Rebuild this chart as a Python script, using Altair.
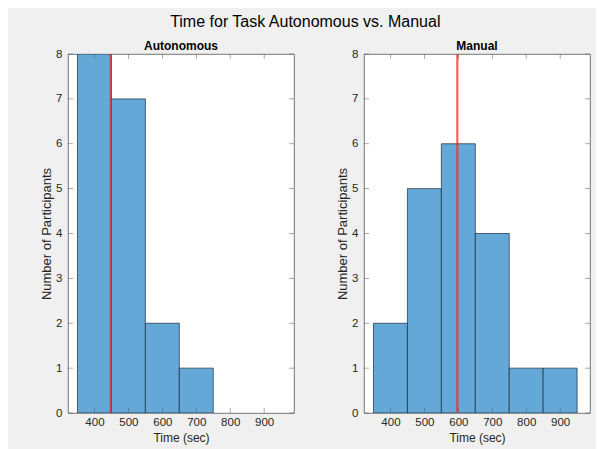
import altair as alt
import pandas as pd

# ---- data ----
auto_bin_start = [350, 450, 550, 650]
auto_counts = [8, 7, 2, 1]
auto_mean = 448

manual_bin_start = [350, 450, 550, 650, 750, 850]
manual_counts = [2, 5, 6, 4, 1, 1]
manual_mean = 597

bin_width = 100
x_ticks = [400, 500, 600, 700, 800, 900]
y_ticks = [0, 1, 2, 3, 4, 5, 6, 7, 8]
x_domain = [322, 988]
y_domain = [0, 8]

W, H = 226, 359
FONT = "Liberation Sans"
BAR = "#64a8d8"
FRAME = "#555555"
TXT = "#262626"


def panel(title, starts, counts, mean):
    df = pd.DataFrame({"start": starts, "end": [s + bin_width for s in starts], "count": counts})
    xs = alt.Scale(domain=x_domain, nice=False, zero=False)
    ys = alt.Scale(domain=y_domain, nice=False)
    xaxis = alt.Axis(values=x_ticks, ticks=False, domain=False, grid=False, labelPadding=3,
                     title="Time (sec)", titlePadding=5, titleFontSize=12)
    yaxis = alt.Axis(values=y_ticks, ticks=False, domain=False, grid=False, labelPadding=6,
                     title="Number of Participants", titlePadding=2, titleFontSize=13)
    bars = alt.Chart(df).mark_bar(fill=BAR, stroke="#1a2a3a", strokeWidth=0.7, clip=True).encode(
        x=alt.X("start:Q", scale=xs, axis=xaxis),
        x2="end:Q",
        y=alt.Y("count:Q", scale=ys, axis=yaxis),
        y2=alt.datum(0),
    )
    mdf = pd.DataFrame({"mean": [mean]})
    rule = alt.Chart(mdf).mark_rule(color="#ff2020", opacity=0.72, strokeWidth=2.2).encode(
        x=alt.X("mean:Q", scale=xs)
    )
    xt = pd.DataFrame({"v": x_ticks})
    yt = pd.DataFrame({"v": y_ticks})
    xtick_b = alt.Chart(xt).mark_tick(orient="vertical", size=5, thickness=0.7, color=FRAME).encode(
        x=alt.X("v:Q", scale=xs), y=alt.value(H - 2.5))
    xtick_t = alt.Chart(xt).mark_tick(orient="vertical", size=5, thickness=0.7, color=FRAME).encode(
        x=alt.X("v:Q", scale=xs), y=alt.value(2.5))
    ytick_l = alt.Chart(yt).mark_tick(orient="horizontal", size=5, thickness=0.7, color=FRAME).encode(
        y=alt.Y("v:Q", scale=ys), x=alt.value(2.5))
    ytick_r = alt.Chart(yt).mark_tick(orient="horizontal", size=5, thickness=0.7, color=FRAME).encode(
        y=alt.Y("v:Q", scale=ys), x=alt.value(W - 2.5))
    return alt.layer(bars, rule, xtick_b, xtick_t, ytick_l, ytick_r).properties(
        width=W, height=H,
        title=alt.TitleParams(title, fontSize=12, fontWeight="bold", font=FONT, color="#000000", offset=-5),
    )


left = panel("Autonomous", auto_bin_start, auto_counts, auto_mean)
right = panel("Manual", manual_bin_start, manual_counts, manual_mean)

chart = alt.hconcat(left, right, spacing=41).properties(
    title=alt.TitleParams("Time for Task Autonomous vs. Manual", fontSize=16, fontWeight="normal",
                          font=FONT, color="#000000", anchor="middle", offset=10, dx=-10),
    padding={"left": 32, "top": 5, "right": 5, "bottom": 5},
    background="#f0f0f0",
).configure_view(
    stroke=FRAME, strokeWidth=0.8, fill="white"
).configure_axis(
    labelFont=FONT, labelFontSize=11.5, labelColor=TXT,
    titleFont=FONT, titleFontWeight="normal", titleColor=TXT,
)

chart.save("out.html", embed_options={"renderer": "svg", "actions": False})
